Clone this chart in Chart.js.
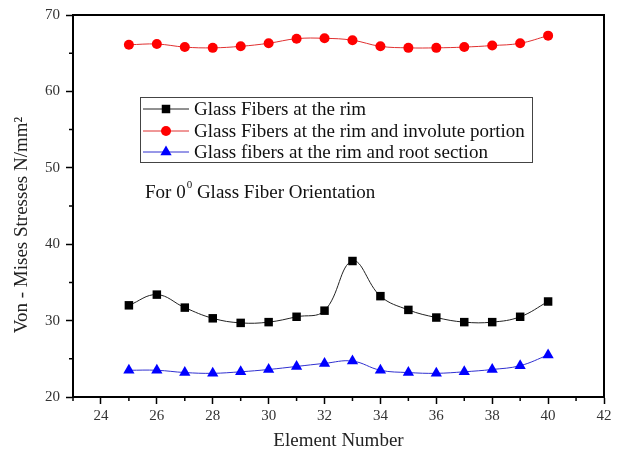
<!DOCTYPE html>
<html>
<head>
<meta charset="utf-8">
<script src="https://cdn.jsdelivr.net/npm/chart.js@4.4.1/dist/chart.umd.min.js"></script>
<style>
    body { margin: 0; background: #ffffff; }
    #wrap { width: 620px; height: 452px; }
</style>
</head>
<body>
<div id="wrap"><canvas id="chart-stress" width="620" height="452"></canvas></div>
<script>
// Datos
const elementos = [25, 26, 27, 28, 29, 30, 31, 32, 33, 34, 35, 36, 37, 38, 39, 40];
const rimValues = [32.0, 33.4, 31.7, 30.3, 29.7, 29.8, 30.5, 31.3, 37.8, 33.2, 31.4, 30.4, 29.8, 29.8, 30.5, 32.5];
const involuteValues = [66.1, 66.2, 65.8, 65.7, 65.9, 66.3, 66.9, 66.95, 66.7, 65.9, 65.7, 65.7, 65.8, 66.0, 66.3, 67.3];
const rootValues = [23.5, 23.5, 23.2, 23.1, 23.3, 23.6, 24.0, 24.4, 24.7, 23.5, 23.2, 23.1, 23.3, 23.6, 24.1, 25.5];
const seriesNames = [
    'Glass Fibers at the rim',
    'Glass Fibers at the rim and involute portion',
    'Glass fibers at the rim and root section'
];
const xTicksMajor = [24, 26, 28, 30, 32, 34, 36, 38, 40, 42];
const yTicksMajor = [20, 30, 40, 50, 60, 70];

const FONT = '"Liberation Serif", "Times New Roman", serif';

function toPoints(values) {
    return values.map((v, i) => ({ x: elementos[i], y: v }));
}

// Marco, ticks menores, leyenda y nota
const extrasPlugin = {
    id: 'extras',
    afterDraw(chart) {
        const ctx = chart.ctx;
        const area = chart.chartArea;
        const xs = chart.scales.x;
        const ys = chart.scales.y;
        ctx.save();

        // marco superior y derecho
        ctx.strokeStyle = '#000';
        ctx.lineWidth = 2;
        ctx.beginPath();
        ctx.moveTo(area.left, area.top);
        ctx.lineTo(area.right, area.top);
        ctx.lineTo(area.right, area.bottom);
        ctx.stroke();

        // ticks menores
        ctx.lineWidth = 1.5;
        ctx.beginPath();
        for (let v = 23; v <= 41; v += 2) {
            const px = xs.getPixelForValue(v);
            ctx.moveTo(px, area.bottom);
            ctx.lineTo(px, area.bottom + 4);
        }
        for (let v = 25; v <= 65; v += 10) {
            const py = ys.getPixelForValue(v);
            ctx.moveTo(area.left, py);
            ctx.lineTo(area.left - 4, py);
        }
        ctx.stroke();

        // leyenda
        const boxL = 140, boxT = 97, boxW = 392, boxH = 65;
        ctx.lineWidth = 1;
        ctx.strokeStyle = '#444';
        ctx.strokeRect(boxL + 0.5, boxT + 0.5, boxW, boxH);
        const rowY = [109, 131, 152];
        ctx.font = '19px ' + FONT;
        ctx.textBaseline = 'middle';
        ctx.textAlign = 'left';
        chart.data.datasets.forEach((ds, i) => {
            const y = rowY[i];
            ctx.strokeStyle = ds.borderColor;
            ctx.lineWidth = 1;
            ctx.beginPath();
            ctx.moveTo(143, y);
            ctx.lineTo(189, y);
            ctx.stroke();
            drawMarker(ctx, ds.pointStyle, 166, y, ds.pointRadius, ds.pointBackgroundColor);
            ctx.fillStyle = '#111';
            ctx.fillText(ds.label, 194, y + 1);
        });

        // nota de orientacion
        ctx.fillStyle = '#111';
        ctx.font = '19px ' + FONT;
        let tx = 145;
        const ty = 193;
        ctx.fillText('For 0', tx, ty);
        tx += ctx.measureText('For 0').width;
        ctx.font = '11px ' + FONT;
        ctx.fillText('0', tx + 1, ty - 8);
        tx += ctx.measureText('0').width + 1;
        ctx.font = '19px ' + FONT;
        ctx.fillText(' Glass Fiber Orientation', tx, ty);

        ctx.restore();
    }
};

function drawMarker(ctx, style, x, y, r, color) {
    ctx.fillStyle = color;
    ctx.beginPath();
    if (style === 'rect') {
        const s = Math.SQRT1_2 * r;
        ctx.rect(x - s, y - s, 2 * s, 2 * s);
    } else if (style === 'triangle') {
        ctx.moveTo(x, y - r);
        ctx.lineTo(x + Math.sin(2 * Math.PI / 3) * r, y + r / 2);
        ctx.lineTo(x - Math.sin(2 * Math.PI / 3) * r, y + r / 2);
        ctx.closePath();
    } else {
        ctx.arc(x, y, r, 0, Math.PI * 2);
    }
    ctx.fill();
}

const ctx = document.getElementById('chart-stress');

const chart = new Chart(ctx, {
    type: 'line',
    data: {
        datasets: [{
            label: seriesNames[0],
            data: toPoints(rimValues),
            borderColor: '#222222',
            borderWidth: 1,
            pointStyle: 'rect',
            pointRadius: 6,
            pointBackgroundColor: '#000000',
            pointBorderWidth: 0,
            tension: 0.4
        }, {
            label: seriesNames[1],
            data: toPoints(involuteValues),
            borderColor: '#e03030',
            borderWidth: 1,
            pointStyle: 'circle',
            pointRadius: 5,
            pointBackgroundColor: '#ff0000',
            pointBorderWidth: 0,
            tension: 0.4
        }, {
            label: seriesNames[2],
            data: toPoints(rootValues),
            borderColor: '#3030d0',
            borderWidth: 1,
            pointStyle: 'triangle',
            pointRadius: 6.5,
            pointBackgroundColor: '#0000ff',
            pointBorderWidth: 0,
            tension: 0.4
        }]
    },
    options: {
        responsive: false,
        animation: false,
        layout: {
            padding: { left: 0, right: 16, top: 14, bottom: 0 }
        },
        plugins: {
            legend: { display: false },
            title: { display: false },
            tooltip: { enabled: false }
        },
        scales: {
            x: {
                type: 'linear',
                min: 23,
                max: 42,
                afterBuildTicks: (scale) => {
                    scale.ticks = xTicksMajor.map(v => ({ value: v }));
                },
                afterFit: (scale) => { scale.height = 55; },
                ticks: {
                    color: '#333',
                    font: { family: FONT, size: 15 },
                    padding: 3,
                    maxRotation: 0,
                    autoSkip: false
                },
                grid: {
                    drawOnChartArea: false,
                    tickLength: 7,
                    tickWidth: 1.5,
                    tickColor: '#000'
                },
                border: { color: '#000', width: 2 },
                title: {
                    display: true,
                    text: 'Element Number',
                    color: '#222',
                    font: { family: FONT, size: 19 },
                    padding: { top: 0, bottom: 0 }
                }
            },
            y: {
                min: 20,
                max: 70,
                afterBuildTicks: (scale) => {
                    scale.ticks = yTicksMajor.map(v => ({ value: v }));
                },
                afterFit: (scale) => { scale.width = 73; },
                ticks: {
                    color: '#333',
                    font: { family: FONT, size: 15 },
                    padding: 6
                },
                grid: {
                    drawOnChartArea: false,
                    tickLength: 7,
                    tickWidth: 1.5,
                    tickColor: '#000'
                },
                border: { color: '#000', width: 2 },
                title: {
                    display: true,
                    text: 'Von - Mises Stresses N/mm\u00B2\u2002\u2002\u2002\u2002',
                    color: '#222',
                    font: { family: FONT, size: 19 },
                    padding: { top: 11, bottom: 0 }
                }
            }
        }
    },
    plugins: [extrasPlugin]
});
</script>
</body>
</html>
